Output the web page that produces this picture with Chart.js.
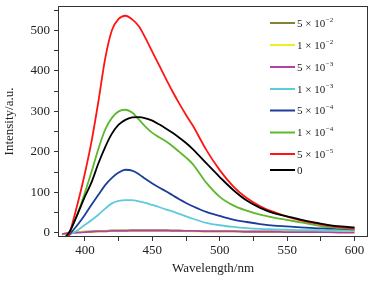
<!DOCTYPE html>
<html>
<head>
<meta charset="utf-8">
<script src="https://cdn.jsdelivr.net/npm/chart.js@4"></script>
<style>
  html, body { margin: 0; padding: 0; background: #fff; }
  #wrap { width: 378px; height: 282px; }
</style>
</head>
<body>
<div id="wrap"><canvas id="myChart" width="378" height="282"></canvas></div>
<script>
// wavelength (nm)
var wavelengths = [383, 386, 388, 390, 395, 400, 405, 410, 415, 420, 425, 430, 435, 440, 445, 450, 455, 460, 465, 470, 475, 480, 490, 500, 510, 520, 530, 540, 550, 560, 570, 580, 590, 600];

// intensity (a.u.) for each concentration
var c5e2 = [-3, -1, 0, 1, 2, 3, 4, 5, 5, 6, 6, 6, 6, 6, 6, 6, 6, 6, 6, 6, 5, 5, 5, 5, 5, 4, 4, 4, 4, 4, 4, 4, 4, 4];
var c1e2 = [-3, -1, 0, 1, 2, 3, 3, 4, 4, 5, 5, 5, 5, 5, 5, 5, 5, 5, 5, 5, 5, 4, 4, 4, 4, 4, 3, 3, 3, 3, 3, 3, 3, 3];
var c5e3 = [-3, -1, 0, 0, 1, 2, 3, 4, 4, 5, 5, 5, 6, 6, 6, 6, 6, 6, 5, 5, 5, 5, 4, 4, 4, 3, 3, 3, 2, 2, 2, 2, 1, 1];
var c1e3 = [null, null, -6, -2, 8, 20, 32, 45, 60, 73, 79, 81, 81, 78, 74, 69, 64, 58, 53, 47, 41, 35, 25, 19, 15, 12, 10, 9, 8, 7, 7, 6, 6, 6];
var c5e4 = [null, null, -6, 2, 22, 45, 70, 94, 118, 136, 149, 156, 154, 145, 133, 122, 112, 103, 93, 83, 74, 66, 52, 42, 33, 27, 22, 18, 16, 14, 12, 11, 10, 9];
var c1e4 = [null, -8, 0, 12, 52, 100, 152, 208, 255, 284, 300, 304, 297, 280, 262, 247, 236, 226, 214, 200, 186, 170, 124, 89, 68, 55, 45, 38, 32, 26, 20, 15, 12, 10];
var c5e5 = [null, null, -8, 15, 78, 148, 228, 325, 430, 500, 528, 536, 527, 510, 480, 447, 414, 381, 349, 319, 291, 265, 205, 155, 115, 86, 66, 52, 40, 31, 24, 18, 14, 11];
var c0 = [null, -8, 0, 12, 50, 90, 126, 172, 212, 245, 267, 279, 285, 286, 283, 277, 268, 258, 247, 235, 222, 207, 172, 138, 106, 80, 62, 49, 41, 33, 26, 20, 16, 14];

var legendBase = ['5 \u00d7 10', '1 \u00d7 10', '5 \u00d7 10', '1 \u00d7 10', '5 \u00d7 10', '1 \u00d7 10', '5 \u00d7 10', '0'];
var legendExp = ['\u22122', '\u22122', '\u22123', '\u22123', '\u22124', '\u22124', '\u22125', ''];
var colors = ['#83832f', '#eeee22', '#b044a4', '#5ecbdc', '#1b3d9c', '#5cb82c', '#ff1414', '#000000'];
var series = [c5e2, c1e2, c5e3, c1e3, c5e4, c1e4, c5e5, c0];
var drawOrder = [7, 6, 5, 4, 3, 2, 1, 0];

var xMajor = [400, 450, 500, 550, 600];
var xTicks = [400, 425, 450, 475, 500, 525, 550, 575, 600];
var yMajor = [0, 100, 200, 300, 400, 500];
var yTicks = [0, 50, 100, 150, 200, 250, 300, 350, 400, 450, 500, 550];

var serif = 'Liberation Serif, Times New Roman, serif';

var datasets = series.map(function (vals, i) {
  return {
    label: legendBase[i] + legendExp[i],
    data: vals.map(function (v, j) { return { x: wavelengths[j], y: v }; }),
    borderColor: colors[i],
    backgroundColor: colors[i],
    borderWidth: 1.8,
    pointRadius: 0,
    cubicInterpolationMode: 'monotone',
    order: drawOrder[i]
  };
});

// frame around the plot + legend inside the plot
var framePlugin = {
  id: 'frameLegend',
  afterDraw: function (chart) {
    var ctx = chart.ctx, a = chart.chartArea;
    ctx.save();
    ctx.strokeStyle = '#333';
    ctx.lineWidth = 1;
    ctx.strokeRect(a.left + 0.5, a.top + 0.5, a.right - a.left - 1, a.bottom - a.top - 1);

    var rows = [23, 45, 67, 89, 110.5, 132.5, 154, 170];
    chart.data.datasets.forEach(function (ds, i) {
      var y = rows[i];
      ctx.strokeStyle = colors[i];
      ctx.lineWidth = 2;
      ctx.beginPath();
      ctx.moveTo(270, y);
      ctx.lineTo(295, y);
      ctx.stroke();
      ctx.fillStyle = '#222';
      ctx.textBaseline = 'middle';
      ctx.font = '11px ' + serif;
      ctx.fillText(legendBase[i], 297, y + 1);
      if (legendExp[i]) {
        var w = ctx.measureText(legendBase[i]).width;
        ctx.font = '7px ' + serif;
        ctx.fillText(legendExp[i], 297 + w + 0.5, y - 3);
      }
    });
    ctx.restore();
  }
};

var ctx = document.getElementById('myChart').getContext('2d');
var myChart = new Chart(ctx, {
  type: 'line',
  data: { datasets: datasets },
  plugins: [framePlugin],
  options: {
    responsive: false,
    animation: false,
    layout: { padding: { top: 6, right: 10, left: 0, bottom: 0 } },
    plugins: {
      legend: { display: false },
      tooltip: { enabled: false }
    },
    scales: {
      x: {
        type: 'linear',
        min: 380,
        max: 610,
        afterBuildTicks: function (scale) {
          scale.ticks = xTicks.map(function (v) { return { value: v }; });
        },
        afterFit: function (scale) {
          scale.height = 45;
          scale.paddingLeft = 0;
          scale.paddingRight = 0;
        },
        grid: { display: true, drawOnChartArea: false, drawTicks: true, tickLength: 4, color: '#333' },
        border: { display: false },
        ticks: {
          autoSkip: false,
          maxRotation: 0,
          padding: 2,
          color: '#222',
          font: { family: serif, size: 13 },
          callback: function (v) { return xMajor.indexOf(v) >= 0 ? String(v) : ''; }
        },
        title: {
          display: true,
          text: 'Wavelength/nm',
          color: '#222',
          font: { family: serif, size: 13 },
          padding: { top: 0, bottom: 6 }
        }
      },
      y: {
        type: 'linear',
        min: -10,
        max: 560,
        afterBuildTicks: function (scale) {
          scale.ticks = yTicks.map(function (v) { return { value: v }; });
        },
        afterFit: function (scale) {
          scale.width = 58;
          scale.paddingTop = 0;
          scale.paddingBottom = 0;
        },
        grid: { display: true, drawOnChartArea: false, drawTicks: true, tickLength: 4, color: '#333' },
        border: { display: false },
        ticks: {
          autoSkip: false,
          padding: 4,
          color: '#222',
          font: { family: serif, size: 13 },
          callback: function (v) { return yMajor.indexOf(v) >= 0 ? String(v) : ''; }
        },
        title: {
          display: true,
          text: 'Intensity/a.u.',
          color: '#222',
          font: { family: serif, size: 13 },
          padding: { top: 2, bottom: 0 }
        }
      }
    }
  }
});
</script>
</body>
</html>
